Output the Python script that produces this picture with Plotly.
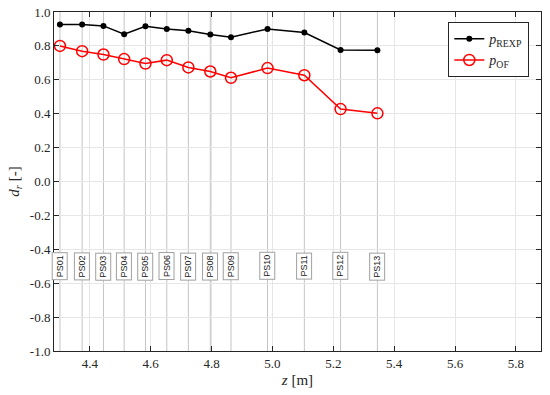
import plotly.graph_objects as go

sensors = ["PS01", "PS02", "PS03", "PS04", "PS05", "PS06", "PS07",
           "PS08", "PS09", "PS10", "PS11", "PS12", "PS13"]
z_pos = [4.302, 4.375, 4.445, 4.513, 4.583, 4.653, 4.724,
         4.796, 4.864, 4.984, 5.105, 5.224, 5.345]
p_rexp = [0.926, 0.926, 0.918, 0.869, 0.916, 0.900, 0.889,
          0.867, 0.851, 0.900, 0.879, 0.776, 0.775]
p_of = [0.800, 0.769, 0.749, 0.722, 0.696, 0.716, 0.673,
        0.649, 0.612, 0.669, 0.627, 0.427, 0.402]

y_ticks = [-1.0, -0.8, -0.6, -0.4, -0.2, 0.0, 0.2, 0.4, 0.6, 0.8, 1.0]
y_ticktext = ["-1.0", "-0.8", "-0.6", "-0.4", "-0.2", "0.0", "0.2", "0.4", "0.6", "0.8", "1.0"]
x_ticks = [4.4, 4.6, 4.8, 5.0, 5.2, 5.4, 5.6, 5.8]
x_ticktext = ["4.4", "4.6", "4.8", "5.0", "5.2", "5.4", "5.6", "5.8"]
label_y = -0.5

FONT = "Liberation Serif, Times New Roman, serif"
SANS = "Liberation Sans, Arial, sans-serif"

fig = go.Figure()

fig.add_trace(go.Scatter(
    x=z_pos, y=p_rexp, mode="lines+markers",
    name="<i>p</i><sub>REXP</sub>",
    line=dict(color="black", width=1.5),
    marker=dict(symbol="circle", size=6, color="black"),
))
fig.add_trace(go.Scatter(
    x=z_pos, y=p_of, mode="lines+markers",
    name="<i>p</i><sub>OF</sub>",
    line=dict(color="#ff0000", width=1.5),
    marker=dict(symbol="circle-open", size=11, color="#ff0000", line=dict(width=1.5)),
))

shapes = []
for zx in z_pos:
    shapes.append(dict(type="line", xref="x", yref="paper", x0=zx, x1=zx, y0=0, y1=1,
                       line=dict(color="#c4c4c4", width=1), layer="below"))

annotations = []
for name, zx in zip(sensors, z_pos):
    annotations.append(dict(x=zx, y=label_y, xref="x", yref="y", text=name,
                            textangle=-90, showarrow=False,
                            font=dict(family=SANS, size=9, color="#222222"),
                            bgcolor="white", bordercolor="#a0a0a0", borderwidth=1, borderpad=2))

fig.update_layout(
    width=550, height=395,
    margin=dict(l=54, r=9, t=12, b=44, autoexpand=False),
    paper_bgcolor="white", plot_bgcolor="white",
    font=dict(family=FONT, size=13, color="#262626"),
    showlegend=True,
    legend=dict(x=0.976, y=0.97, xanchor="right", yanchor="top",
                bgcolor="white", bordercolor="#262626", borderwidth=1,
                font=dict(family=FONT, size=14, color="#262626"),
                tracegroupgap=0),
    shapes=shapes,
    annotations=annotations,
)
fig.update_xaxes(
    range=[4.2825, 5.8825], tickvals=x_ticks, ticktext=x_ticktext,
    tickfont=dict(family=FONT, size=13, color="#262626"),
    ticks="inside", ticklen=5, tickcolor="#262626",
    showline=True, linecolor="#262626", linewidth=1, mirror="ticks",
    showgrid=True, gridcolor="#e6e6e6", zeroline=False, automargin=False,
    title=dict(text="<i>z</i> [m]", font=dict(family=FONT, size=15, color="#262626"), standoff=4),
)
fig.update_yaxes(
    range=[-1.0, 1.0], tickvals=y_ticks, ticktext=y_ticktext,
    tickfont=dict(family=FONT, size=13, color="#262626"),
    ticks="inside", ticklen=5, tickcolor="#262626",
    showline=True, linecolor="#262626", linewidth=1, mirror="ticks",
    showgrid=True, gridcolor="#e6e6e6", zeroline=False, automargin=False,
    title=dict(text="<i>d</i><sub><i>r</i></sub> [-]", font=dict(family=FONT, size=15, color="#262626"), standoff=6),
)

fig.write_html("out.html", config={"displayModeBar": False})

# remove the default browser body margin so the figure sits at the window origin
with open("out.html", "r", encoding="utf-8") as f:
    html = f.read()
html = html.replace("<head>", "<head><style>html,body{margin:0;padding:0;}</style>", 1)
with open("out.html", "w", encoding="utf-8") as f:
    f.write(html)
